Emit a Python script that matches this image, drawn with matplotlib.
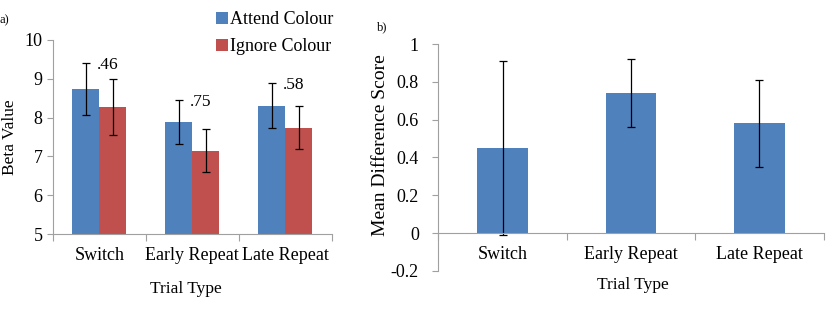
import matplotlib.pyplot as plt
import numpy as np

plt.rcParams['font.family'] = ['Liberation Serif', 'DejaVu Serif']

# data
trials = ['Switch', 'Early Repeat', 'Late Repeat']
attend = [8.74, 7.89, 8.30]
attend_err = [0.67, 0.56, 0.58]
ignore = [8.27, 7.15, 7.74]
ignore_err = [0.73, 0.56, 0.55]
diff_labels = ['.46', '.75', '.58']
diff = [0.45, 0.74, 0.58]
diff_err = [0.46, 0.18, 0.23]

blue = '#4F81BD'
red = '#C0504D'
grey = '#A0A0A0'
tick_fs = 13
lab_fs = 12.5

fig = plt.figure(figsize=(8.27, 3.10), dpi=100)
ax1 = fig.add_axes([0.064, 0.245, 0.337, 0.626])
ax2 = fig.add_axes([0.530, 0.126, 0.466, 0.732])

x = np.arange(len(trials))
w = 0.29
ekw = dict(elinewidth=0.9, capthick=0.9)

# ---------- panel a
ax1.bar(x - w / 2, attend, w, color=blue, label='Attend Colour',
        yerr=attend_err, capsize=3, error_kw=ekw)
ax1.bar(x + w / 2, ignore, w, color=red, label='Ignore Colour',
        yerr=ignore_err, capsize=3, error_kw=ekw)
for i, lab in enumerate(diff_labels):
    top = max(attend[i] + attend_err[i], ignore[i] + ignore_err[i])
    ax1.text(x[i] - 0.03, top - 0.05, lab, fontsize=12.5, ha='left', va='center')
ax1.set_ylim(5, 10)
ax1.set_xlim(-0.5, 2.5)
ax1.set_yticks([5, 6, 7, 8, 9, 10])
ax1.text(-0.154, 0.5, 'Beta Value', transform=ax1.transAxes, fontsize=lab_fs,
         rotation=90, ha='center', va='center')
ax1.text(0.478, -0.284, 'Trial Type', transform=ax1.transAxes, fontsize=lab_fs,
         ha='center', va='center')
fig.text(0.0, 0.935, 'a)', fontsize=9, ha='left', va='center')
fig.legend(*ax1.get_legend_handles_labels(), loc='upper left',
           bbox_to_anchor=(0.248, 0.999), frameon=False, fontsize=13,
           handlelength=0.65, handleheight=0.65, handletextpad=0.15,
           labelspacing=0.55, borderaxespad=0.2)

# ---------- panel b
ax2.bar(x, diff, 0.39, color=blue, yerr=diff_err, capsize=3, error_kw=ekw)
ax2.set_ylim(-0.2, 1)
ax2.set_xlim(-0.5, 2.5)
ax2.set_yticks([-0.2, 0, 0.2, 0.4, 0.6, 0.8, 1])
ax2.set_yticklabels(['-0.2', '0', '0.2', '0.4', '0.6', '0.8', '1'])
ax2.spines['bottom'].set_position(('data', 0))
ax2.text(-0.150, 0.555, 'Mean Difference Score', transform=ax2.transAxes,
         fontsize=14, rotation=90, ha='center', va='center')
ax2.text(0.505, -0.062, 'Trial Type', transform=ax2.transAxes, fontsize=lab_fs,
         ha='center', va='center')
fig.text(0.456, 0.913, 'b)', fontsize=9, ha='left', va='center')

for ax in (ax1, ax2):
    for s in ('top', 'right'):
        ax.spines[s].set_visible(False)
    for s in ('left', 'bottom'):
        ax.spines[s].set_color(grey)
    ax.set_xticks([-0.5, 0.5, 1.5, 2.5])
    ax.set_xticklabels([])
    ax.set_xticks(x, minor=True)
    ax.set_xticklabels(trials, minor=True, fontsize=tick_fs)
    ax.tick_params(axis='x', which='minor', length=0, pad=9)
    ax.tick_params(axis='x', which='major', length=5, color=grey, direction='out')
    ax.tick_params(axis='y', length=4, color=grey, labelsize=tick_fs, direction='out')

ax2.tick_params(axis='y', pad=10)

fig.savefig('out.png', dpi=100)
